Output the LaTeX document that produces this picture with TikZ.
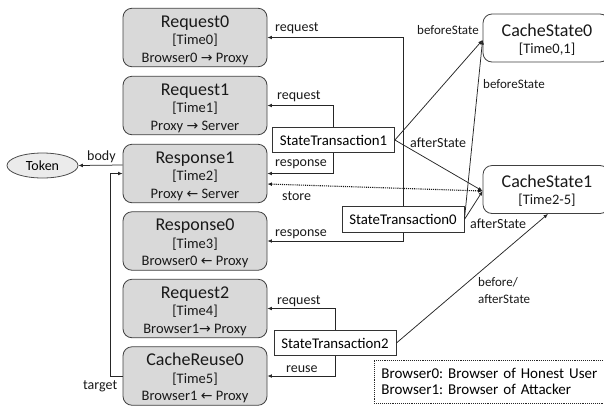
\documentclass[tikz,border=0pt]{standalone}
\usepackage{fontspec}
\setmainfont{Carlito}
\newfontfamily\symfont{DejaVu Sans}
\usetikzlibrary{arrows.meta,calc,shapes.geometric}
\frenchspacing
% arrows inside the event boxes
\newcommand\ra{{\symfont\fontsize{14}{14}\selectfont\char"2192}}
\newcommand\la{{\symfont\fontsize{14}{14}\selectfont\char"2190}}
% three-line caption of an event box: title, time slot, route
\newcommand\evlines[3]{\begin{tabular}[t]{@{}c@{}}{\fontsize{18}{18}\selectfont #1}\\{}#2\\{}#3\end{tabular}}
\newcommand\cslines[2]{\begin{tabular}[t]{@{}c@{}}{\fontsize{18}{18}\selectfont #1}\\{}#2\end{tabular}}

\begin{document}
\begin{tikzpicture}[x=1pt,y=-1pt,
  evbox/.style={draw=black!75, fill=black!15, rounded corners=9pt, line width=0.8pt,
    minimum width=144pt, minimum height=58.5pt, inner sep=0pt},
  csbox/.style={draw=black!75, fill=white, rounded corners=9pt, line width=0.8pt,
    minimum width=126pt, minimum height=48pt, inner sep=0pt},
  txt/.style={inner sep=0pt, anchor=base, text=black!90, font=\fontsize{14.5}{17.5}\selectfont},
  stbox/.style={draw=black!80, fill=white, line width=0.8pt, minimum width=122pt,
    minimum height=25.5pt, inner sep=0pt, font=\fontsize{14.8}{17}\selectfont},
  tokbox/.style={ellipse, draw=black!70, fill=black!8, line width=0.8pt,
    minimum width=71pt, minimum height=25pt, inner sep=0pt, font=\fontsize{14}{16}\selectfont},
  lbl/.style={inner sep=0pt, anchor=base west, text=black!90, font=\fontsize{14}{16}\selectfont},
  slbl/.style={lbl, font=\fontsize{13}{17}\selectfont},
  conn/.style={draw=black!85, line width=0.75pt, -{Latex[length=4.5pt,width=3.8pt]}},
  dotconn/.style={draw=black!90, line width=1.1pt, densely dotted,
    {Latex[length=4.5pt,width=3.8pt]}-{Latex[length=4.5pt,width=3.8pt]}},
  legbox/.style={draw=black!85, line width=0.9pt, densely dotted, fill=white,
    minimum height=43pt, text width=226pt, align=left,
    inner xsep=7pt, inner ysep=0pt, font=\fontsize{15}{16}\selectfont}
]
\useasboundingbox (0,0) rectangle (604,405);

% event boxes
\node[evbox] (r0)  at (195,37.5)  {};
\node[evbox] (r1)  at (195,105.5) {};
\node[evbox] (rs1) at (195,173.5) {};
\node[evbox] (rs0) at (195,241)   {};
\node[evbox] (rq2) at (195,308.5) {};
\node[evbox] (cr0) at (195,376)   {};
\node[txt] (r0t)  at ($(r0.center)+(0,-10.5)$)  {\evlines{Request0}{[Time0]}{Browser0 \ra{} Proxy}};
\node[txt] (r1t)  at ($(r1.center)+(0,-10.5)$)  {\evlines{Request1}{[Time1]}{Proxy \ra{} Server}};
\node[txt] (rs1t) at ($(rs1.center)+(0,-10.5)$) {\evlines{Response1}{[Time2]}{Proxy \la{} Server}};
\node[txt] (rs0t) at ($(rs0.center)+(0,-10.5)$) {\evlines{Response0}{[Time3]}{Browser0 \la{} Proxy}};
\node[txt] (rq2t) at ($(rq2.center)+(0,-10.5)$) {\evlines{Request2}{[Time4]}{Browser1\ra{} Proxy}};
\node[txt] (cr0t) at ($(cr0.center)+(0,-10.5)$) {\evlines{CacheReuse0}{[Time5]}{Browser1 \la{} Proxy}};

% cache states
\node[csbox] (cs0) at (546,38)    {};
\node[csbox] (cs1) at (546,189.5) {};
\node[txt] (cs0t) at (547,36)  {\cslines{CacheState0}{[Time0,1]}};
\node[txt] (cs1t) at (547,187) {\cslines{CacheState1}{[Time2-5]}};

% token
\node[tokbox] (tok) at (42.5,165.5) {Token};

% state transactions
\node[stbox] (st1) at (333.5,140) {StateTransaction1};
\node[stbox] (st0) at (403,219.5) {StateTransaction0};
\node[stbox] (st2) at (335,343)   {StateTransaction2};

% legend
\node[legbox, anchor=west] (leg) at (374,381.5) {Browser0: Browser of Honest User\\Browser1: Browser of Attacker};

% transaction to event links
\draw[conn] (st0.north) |- (r0.east);
\draw[conn] (st1.north) |- (r1.east);
\draw[conn] (st1.south) |- (rs1.east);
\draw[conn] (st0.south) |- (rs0.east);
\draw[conn] (st2.north) |- (rq2.east);
\draw[conn] (st2.south) |- (cr0.east);

% transaction to cache state links
\draw[conn] (st1.east) -- ([yshift=-2pt]cs0.west);
\draw[conn] (st0.east) -- ([yshift=-2pt]cs0.west);
\draw[conn] (st1.east) -- ([yshift=-1.5pt]cs1.west);
\draw[conn] (st0.east) -- ([yshift=-1.5pt]cs1.west);
\draw[conn] (st2.east) -- ([xshift=2pt]cs1.south);
\draw[dotconn] ([yshift=-10.5pt]rs1.east) -- ([yshift=-1.5pt]cs1.west);

% body and target
\draw[conn] ([yshift=8.5pt]rs1.west) -- (tok.east);
\coordinate (tgc) at (110,173.5);
\draw[conn] (cr0.west) -| (tgc) -- (rs1.west);

% connector labels
\node[lbl] (lreq0)  at (275,31)  {request};
\node[lbl] (lreq1)  at (277,99)  {request};
\node[lbl] (lresp1) at (275,166) {response};
\node[lbl] (lstore) at (282,200) {store};
\node[lbl] (lresp0) at (275,236) {response};
\node[lbl] (lreq2)  at (277,304) {request};
\node[lbl] (lreuse) at (286,372) {reuse};
\node[lbl] (lbody)  at (87,160)  {body};
\node[lbl] (ltgt)   at (83,389)  {target};
\node[slbl] (lbef1) at (417,34)  {beforeState};
\node[slbl] (lbef0) at (483,88)  {beforeState};
\node[lbl] (laft1)  at (410,147) {afterState};
\node[lbl] (laft0)  at (470,228) {afterState};
\node[slbl, align=left, anchor=north west] (lba) at (478,277) {before/\\afterState};
\end{tikzpicture}
\end{document}
